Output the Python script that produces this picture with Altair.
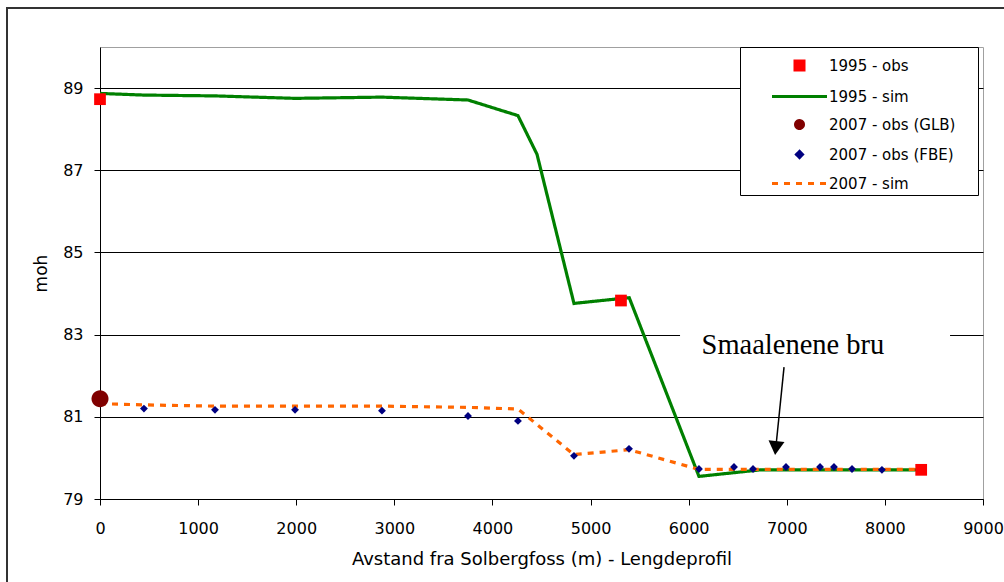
import altair as alt
import pandas as pd

# ---- series definitions ----
SERIES = ["1995 - obs", "1995 - sim", "2007 - obs (GLB)", "2007 - obs (FBE)", "2007 - sim"]
COLORS = ["#FF0000", "#008000", "#800000", "#000080", "#FF6600"]
SQUARE = "M-0.328,-0.328H0.328V0.328H-0.328Z"
LINE = "M-2,0H2"
CIRCLE = "M-0.29,0A0.29,0.29,0,1,1,0.29,0A0.29,0.29,0,1,1,-0.29,0Z"
DIAMOND = "M0,-0.22L0.22,0L0,0.22L-0.22,0Z"
SHAPES = [SQUARE, LINE, CIRCLE, DIAMOND, LINE]
DASHES = [[1, 0], [1, 0], [1, 0], [1, 0], [6, 6]]

# ---- data ----
obs1995_x = [0, 5310, 8370]
obs1995_y = [88.73, 83.83, 79.71]

glb_x = [0]
glb_y = [81.44]

fbe_x = [448, 1172, 1988, 2874, 3751, 4260, 4831, 5392, 6105, 6462, 6656, 6992, 7339, 7481, 7665, 7970]
fbe_y = [81.20, 81.17, 81.17, 81.15, 81.02, 80.90, 80.05, 80.22, 79.73, 79.78, 79.73, 79.78, 79.78, 79.78, 79.73, 79.71]

sim1995_x = [0, 448, 1172, 1988, 2874, 3751, 4260, 4454, 4831, 5394, 6105, 6735, 8370]
sim1995_y = [88.87, 88.83, 88.81, 88.75, 88.78, 88.71, 88.33, 87.39, 83.76, 83.90, 79.55, 79.71, 79.71]

sim2007_x = [0, 448, 1172, 1988, 2874, 3751, 4260, 4831, 5392, 6105, 6462, 6656, 6992, 7339, 7481, 7665, 7970, 8370]
sim2007_y = [81.32, 81.29, 81.26, 81.26, 81.26, 81.23, 81.19, 80.08, 80.20, 79.72, 79.72, 79.72, 79.72, 79.72, 79.72, 79.72, 79.72, 79.72]

X_TICKS = [0, 1000, 2000, 3000, 4000, 5000, 6000, 7000, 8000, 9000]
Y_TICKS = [79, 81, 83, 85, 87, 89]

X_TITLE = "Avstand fra Solbergfoss (m) - Lengdeprofil"
Y_TITLE = "moh"

ANNOT_TEXT = ["Smaalenene bru"]
ANNOT_X = [7063]
ANNOT_Y = [82.53]
BOX_X = [5912, 8664]
BOX_Y = [82.28, 83.40]
ARROW_X = [6972, 6888]
ARROW_Y = [82.21, 80.24]

# ---- tables ----
lines_df = pd.concat([
    pd.DataFrame({"x": sim1995_x, "y": sim1995_y, "series": "1995 - sim"}),
    pd.DataFrame({"x": sim2007_x, "y": sim2007_y, "series": "2007 - sim"}),
], ignore_index=True)
sq_df = pd.DataFrame({"x": obs1995_x, "y": obs1995_y, "series": "1995 - obs"})
glb_df = pd.DataFrame({"x": glb_x, "y": glb_y, "series": "2007 - obs (GLB)"})
fbe_df = pd.DataFrame({"x": fbe_x, "y": fbe_y, "series": "2007 - obs (FBE)"})
text_df = pd.DataFrame({"x": ANNOT_X, "y": ANNOT_Y, "t": ANNOT_TEXT})
box_df = pd.DataFrame({"x": [BOX_X[0]], "x2": [BOX_X[1]], "y": [BOX_Y[0]], "y2": [BOX_Y[1]]})
arrow_df = pd.DataFrame({"x": [ARROW_X[0]], "x2": [ARROW_X[1]], "y": [ARROW_Y[0]], "y2": [ARROW_Y[1]]})
head_df = pd.DataFrame({"x": [ARROW_X[1]], "y": [ARROW_Y[1]]})
frame_df = pd.DataFrame({"a": [0]})

# ---- scales / axes ----
xs = alt.Scale(domain=[0, 9000], nice=False, zero=False)
ys = alt.Scale(domain=[79, 90], nice=False, zero=False)
xaxis = alt.Axis(values=X_TICKS, grid=False, format="d", tickSize=6, labelPadding=15,
                 labelFlush=False, labelFontSize=16, title=X_TITLE, titleFontSize=18,
                 titlePadding=14)
yaxis = alt.Axis(values=Y_TICKS, grid=True, gridColor="black", gridWidth=1, gridOpacity=1,
                 tickSize=6, labelPadding=11, labelFlush=False, labelFontSize=16,
                 title=Y_TITLE, titleFontSize=17, titlePadding=12)
X = alt.X("x:Q", scale=xs, axis=xaxis)
Y = alt.Y("y:Q", scale=ys, axis=yaxis)

legend = alt.Legend(title=None, orient="none", legendX=640, legendY=0,
                    fillColor="white", strokeColor="black", padding=3,
                    labelFont="DejaVu Sans", labelFontSize=15, labelColor="black",
                    symbolSize=756, symbolStrokeWidth=3, rowPadding=4,
                    symbolOffset=41, labelOffset=14,
                    labelExpr="datum.label + '\u00a0\u00a0\u00a0\u00a0\u200b'")
color_scale = alt.Scale(domain=SERIES, range=COLORS)
shape_scale = alt.Scale(domain=SERIES, range=SHAPES)
dash_scale = alt.Scale(domain=SERIES, range=DASHES)
COLOR = alt.Color("series:N", scale=color_scale, legend=legend)
SHAPE = alt.Shape("series:N", scale=shape_scale, legend=legend)
DASH = alt.StrokeDash("series:N", scale=dash_scale, legend=legend)

frame = alt.Chart(frame_df).mark_rect(fillOpacity=0, stroke="#333333", strokeWidth=2).encode(
    x=alt.value(-93), x2=alt.value(1000), y=alt.value(-39), y2=alt.value(600))

box = alt.Chart(box_df).mark_rect(color="white").encode(x=X, x2="x2:Q", y=Y, y2="y2:Q")

lines = alt.Chart(lines_df).mark_line(strokeWidth=3.2).encode(x=X, y=Y, color=COLOR, strokeDash=DASH)

sq = alt.Chart(sq_df).mark_point(filled=True, opacity=1, size=1278, strokeWidth=0).encode(
    x=X, y=Y, color=COLOR, shape=SHAPE)
glb = alt.Chart(glb_df).mark_point(filled=True, opacity=1, size=3436, strokeWidth=0).encode(
    x=X, y=Y, color=COLOR, shape=SHAPE)
fbe = alt.Chart(fbe_df).mark_point(filled=True, opacity=1, size=1278, strokeWidth=0).encode(
    x=X, y=Y, color=COLOR, shape=SHAPE)

text = alt.Chart(text_df).mark_text(font="Liberation Serif", fontSize=28.5, color="black",
                                    align="center", baseline="alphabetic").encode(x=X, y=Y, text="t:N")
rule = alt.Chart(arrow_df).mark_rule(color="black", strokeWidth=1.5).encode(x=X, x2="x2:Q", y=Y, y2="y2:Q")
head = alt.Chart(head_df).mark_point(shape="triangle-down", filled=True, color="black", opacity=1,
                                     size=256, angle=6).encode(x=X, y=Y)

chart = alt.layer(frame, box, lines, fbe, glb, sq, rule, head, text).properties(
    width=883, height=452,
    autosize=alt.AutoSizeParams(type="none"),
    padding={"left": 100, "top": 47, "right": 21, "bottom": 83},
).configure_view(stroke="#A0A0A0", strokeWidth=1).configure_axis(
    domainColor="black", tickColor="black", labelColor="black", titleColor="black",
    labelFont="DejaVu Sans", titleFont="DejaVu Sans", titleFontWeight="normal")

chart.save("out.html", embed_options={"renderer": "svg", "actions": False})
